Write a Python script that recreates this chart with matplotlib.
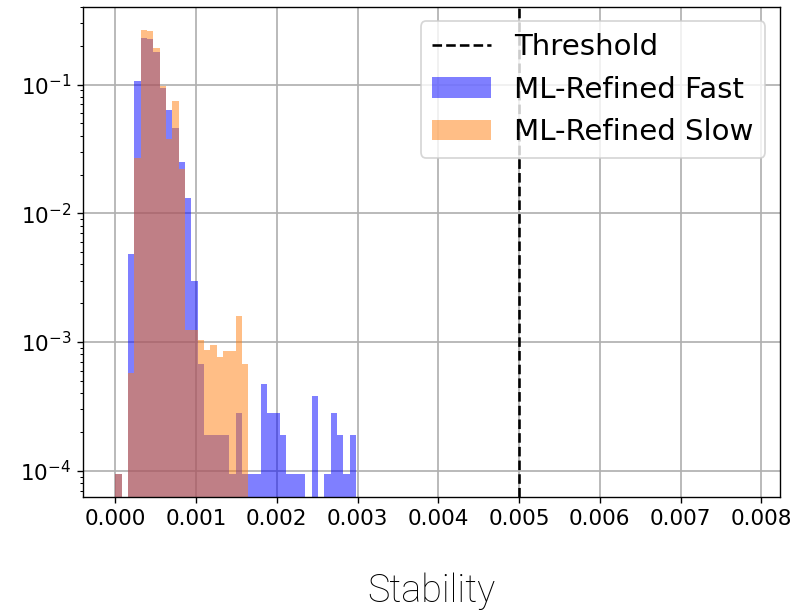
import numpy as np
import matplotlib
matplotlib.use('Agg')
import matplotlib.pyplot as plt
from matplotlib.ticker import FormatStrFormatter

# histogram bins (100 bins from 0 to max stability)
bin_edges = np.linspace(0.0, 0.00784, 101)

# fraction of samples per bin (bins 0..37, rest empty)
fast_vals = [9.5e-5, 0, 4.8e-3, 0.107, 0.231, 0.226, 0.180, 0.0947,
             0.063, 0.0457, 0.0251, 0.0131, 3.0e-3, 6.7e-4, 1.9e-4, 1.9e-4,
             1.9e-4, 1.9e-4, 9.5e-5, 2.8e-4, 9.5e-5, 9.5e-5, 9.5e-5, 4.7e-4,
             2.8e-4, 2.8e-4, 1.9e-4, 9.5e-5, 9.5e-5, 9.5e-5, 0, 3.8e-4,
             0, 9.5e-5, 2.8e-4, 1.9e-4, 9.5e-5, 1.9e-4]
slow_vals = [9.5e-5, 0, 5.7e-4, 0.0267, 0.266, 0.260, 0.194, 0.0975,
             0.038, 0.0746, 0.022, 1.24e-3, 1.24e-3, 1.04e-3, 8.6e-4, 9.5e-4,
             7.6e-4, 8.5e-4, 8.5e-4, 1.6e-3, 6.7e-4]

threshold = 0.005

centers = 0.5 * (bin_edges[:-1] + bin_edges[1:])
fast = np.zeros(len(centers))
fast[:len(fast_vals)] = fast_vals
slow = np.zeros(len(centers))
slow[:len(slow_vals)] = slow_vals

fig = plt.figure(figsize=(795 / 124, 610 / 124), dpi=124)
ax = fig.add_axes([83.3 / 795, 1 - 497.3 / 610, (780 - 83.3) / 795,
                   (497.3 - 6.7) / 610])

ax.axvline(threshold, color='k', linestyle='--', linewidth=1.5,
           label='Threshold')
ax.hist(centers, bins=bin_edges, weights=fast, color='b', alpha=0.5,
        label='ML-Refined Fast')
ax.hist(centers, bins=bin_edges, weights=slow, color='C1', alpha=0.5,
        label='ML-Refined Slow')

ax.set_yscale('log')
ax.set_xlim(-0.000396, 0.008232)
ax.set_ylim(10 ** -4.207, 10 ** -0.395)
ax.set_xticks(np.arange(0, 0.0081, 0.001))
ax.xaxis.set_major_formatter(FormatStrFormatter('%.3f'))
ax.tick_params(labelsize=12.5)
ax.grid(True, linewidth=1.0)
ax.set_axisbelow(True)

ax.legend(loc='upper right', fontsize=17)
ax.set_xlabel('Stability', fontsize=22, family='Roboto',
              fontweight='light', labelpad=25)

fig.savefig('out.png', dpi=124)
